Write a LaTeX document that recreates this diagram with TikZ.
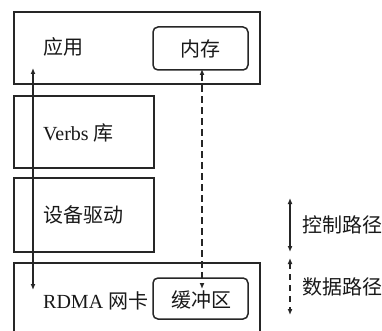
\documentclass[tikz,border=0pt]{standalone}
\usepackage{fontspec}
\setmainfont{Liberation Serif}
\newfontfamily\cjk{Noto Sans CJK SC}[Scale=1.0]
\usetikzlibrary{arrows.meta}
\begin{document}
\begin{tikzpicture}[x=1pt,y=-1pt,
  box/.style={draw=black!85, line width=1.8pt, minimum width=246pt, inner sep=0pt},
  sbox/.style={draw=black!85, line width=1.8pt, minimum width=140pt, inner sep=0pt},
  rbox/.style={draw=black!85, line width=1.5pt, rounded corners=5pt, minimum width=95pt, inner sep=0pt},
  lbl/.style={anchor=west, font=\fontsize{20}{23}\selectfont, inner sep=0pt, text=black!90},
  ctr/.style={font=\fontsize{20}{23}\selectfont, inner sep=0pt, text=black!90},
  arr/.style={line width=1.3pt, draw=black!85, {Latex[length=6pt,width=5pt]}-{Latex[length=6pt,width=5pt]}},
  darr/.style={arr, dash pattern=on 7pt off 4pt},
]
\useasboundingbox (0,0) rectangle (382,331);
\fill[white] (0,0) rectangle (382,331);
\begin{scope}
\clip (0,0) rectangle (382,331);
% boxes
\node[box, minimum height=72pt] (app) at (137,48) {};
\node[rbox, minimum height=43pt] (mem) at (200.5,48.5) {};
\node[sbox, minimum height=72pt] (verbs) at (84,132) {};
\node[sbox, minimum height=74pt] (drv) at (84,215) {};
\node[box, minimum height=82pt] (nic) at (137,304) {};
\node[rbox, minimum height=41pt] (buf) at (200.5,298.5) {};
% labels
\node[lbl] (tapp) at (43,47) {\cjk 应用};
\node[ctr] (tmem) at (mem.center) {\cjk 内存};
\node[lbl] (tverbs) at (43,133) {Verbs {\cjk 库}};
\node[lbl] (tdrv) at (43,215) {\cjk 设备驱动};
\node[lbl] (tnic) at (43,301) {RDMA {\cjk 网卡}};
\node[ctr] (tbuf) at (201,300) {\cjk 缓冲区};
% control path
\coordinate (ctop) at (33,68);
\coordinate (cbot) at (33,290);
\draw[arr] (ctop) -- (cbot);
% data path
\coordinate (dtop) at (202,69);
\coordinate (dbot) at (202,289);
\draw[darr] (dtop) -- (dbot);
% legend
\coordinate (l1t) at (290,198);
\coordinate (l1b) at (290,252);
\draw[arr] (l1t) -- (l1b);
\node[lbl] (tl1) at (302,225) {\cjk 控制路径};
\coordinate (l2t) at (290,258);
\coordinate (l2b) at (290,315);
\draw[arr, dash pattern=on 6pt off 5pt] (l2t) -- (l2b);
\node[lbl] (tl2) at (302,287) {\cjk 数据路径};
\end{scope}
\end{tikzpicture}
\end{document}
